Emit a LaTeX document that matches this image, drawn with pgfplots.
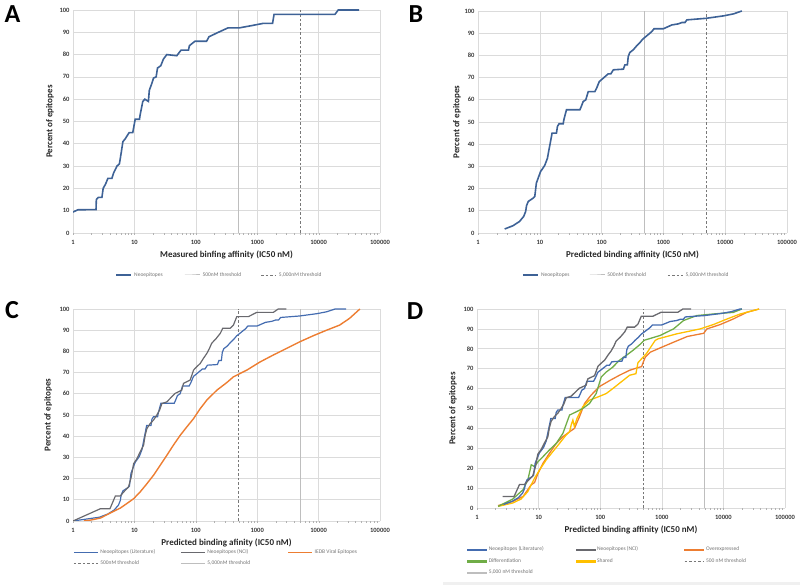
\documentclass[border=0pt]{standalone}
\usepackage{pgfplots}
\pgfplotsset{compat=1.18}
\usepackage{fontspec}
\setmainfont{Carlito}
\definecolor{neoblue}{RGB}{62,98,150}
\definecolor{litblue}{RGB}{68,108,176}
\definecolor{nci}{RGB}{105,105,110}
\definecolor{iedb}{RGB}{237,125,49}
\definecolor{diffg}{RGB}{112,173,71}
\definecolor{shared}{RGB}{255,192,0}
\definecolor{thrsolid}{RGB}{190,190,190}
\definecolor{thrdash}{RGB}{120,120,120}

\pgfplotsset{every axis/.append style={
    xmode=log, scale only axis,
    xmin=1, xmax=100000, ymin=0, ymax=100,
    xtick={1,10,100,1000,10000,100000},
    xticklabels={1,10,100,1000,10000,100000},
    ytick={0,10,20,30,40,50,60,70,80,90,100},
    yticklabels={0,10,20,30,40,50,60,70,80,90,100},
    grid=major,
    major grid style={draw=gray!28, line width=0.6pt},
    axis line style={draw=none},
    ytick style={draw=none},
    xtick style={draw=gray!60},
    xtick pos=left,
    tick align=outside,
    major tick length=0pt,
    minor tick length=2pt,
    tick label style={font=\fontsize{6.5}{7}\selectfont\bfseries, text=black!78},
    xticklabel style={yshift=-4pt},
    xlabel style={font=\fontsize{9}{10}\selectfont\bfseries, text=black!85,
      at={(axis description cs:0.5,0)}, anchor=center, yshift=-22pt},
    ylabel style={font=\fontsize{9}{10}\selectfont\bfseries, text=black!85, anchor=center},
    ylabel={Percent of epitopes},
    legend cell align=left,
  }}

\begin{document}
\begin{tikzpicture}
\useasboundingbox (0,0) rectangle (800pt,585pt);

% ---------------- A
\begin{axis}[at={(73pt,352pt)}, anchor=south west,
    width=307pt, height=223pt,
    ylabel style={at={(axis description cs:-0.075,0.5)}},
    xlabel={Measured binfing affinity (IC50 nM)},
    legend columns=3,
    legend image post style={xscale=0.9},
    legend style={draw=none, fill=none, inner sep=0pt,
      font=\fontsize{5.5}{6.5}\selectfont, text=black!55,
      at={(axis description cs:0.137,0)}, anchor=west, yshift=-42pt}]
\addplot[thrsolid, line width=1pt, forget plot] coordinates {(500,0) (500,100)};
\addplot[thrdash, line width=0.9pt, dash pattern=on 2.5pt off 2pt, forget plot] coordinates {(5000,0) (5000,100)};
\addplot[neoblue, line width=1.6pt] coordinates {(1,9.4)(1.2,10.4)(2.37,10.5)(2.4,15)(2.6,16)(2.96,16)(3.1,20)(3.4,22)(3.7,24.5)(4.3,24.5)(4.6,27)(5.2,30)(5.7,31)(6.1,36)(6.5,41)(7.0,42)(8.2,45)(9.4,45)(10.3,51)(12.1,51)(12.4,53)(13.7,59)(14.8,60)(16.9,59)(17.5,64)(19.2,67)(20.5,69.5)(22.6,70)(23.8,74)(26.9,75)(29.7,78)(33.7,80)(49,79.5)(57.5,82)(76,82)(78.7,84)(97,86)(150,86)(164,88)(233,90)(336,92)(516,92)(815,93)(1250,94)(1780,94)(1880,98)(18400,98)(20900,100)(45500,100)};
\addlegendentry{\makebox[48pt][l]{Neoepitopes}}
\addlegendimage{thrsolid, line width=1pt}
\addlegendentry{\makebox[56pt][l]{500nM threshold}}
\addlegendimage{thrdash, line width=0.9pt, dash pattern=on 2.5pt off 2pt}
\addlegendentry{5,000nM threshold}
\end{axis}

% ---------------- B
\begin{axis}[at={(478pt,352pt)}, anchor=south west,
    width=309pt, height=222pt,
    ylabel style={at={(axis description cs:-0.068,0.5)}},
    xlabel={Predicted binding affinity (IC50 nM)},
    legend columns=3,
    legend image post style={xscale=0.9},
    legend style={draw=none, fill=none, inner sep=0pt,
      font=\fontsize{5.5}{6.5}\selectfont, text=black!55,
      at={(axis description cs:0.142,0)}, anchor=west, yshift=-42pt}]
\addplot[thrsolid, line width=1pt, forget plot] coordinates {(500,0) (500,100)};
\addplot[thrdash, line width=0.9pt, dash pattern=on 2.5pt off 2pt, forget plot] coordinates {(5000,0) (5000,100)};
\addplot[neoblue, line width=1.6pt] coordinates {(2.7,1.8)(3.7,3.3)(4.7,5.2)(5.5,7.5)(5.9,9.7)(6.1,12.3)(6.5,14.2)(7.8,15.7)(8.3,16.5)(8.8,22.5)(9.4,24.7)(10.3,27.7)(12.0,30.4)(13.3,33.7)(13.9,36.7)(15.1,42)(15.8,45)(18.6,45)(19.3,48)(20.5,49.2)(23.9,49.2)(24.5,51)(27,55.5)(44.5,55.5)(47.4,57.3)(50.3,59.2)(55.5,60)(60.8,63.7)(78,63.7)(83,65.2)(91.6,68.2)(106,69.7)(128,71.7)(141,71.7)(155,73.5)(225,73.8)(238,75.7)(261,75.7)(270,79.5)(286,81.3)(325,82.5)(369,84.3)(418,85.8)(462,87.3)(537,88.8)(647,90.7)(706,92)(1000,92)(1365,93.7)(1740,94.2)(1990,94.8)(2230,94.8)(2400,96)(4900,96.7)(9400,97.8)(13600,98.7)(18600,100)};
\addlegendentry{\makebox[46pt][l]{Neoepitopes}}
\addlegendimage{thrsolid, line width=1pt}
\addlegendentry{\makebox[58pt][l]{500nM threshold}}
\addlegendimage{thrdash, line width=0.9pt, dash pattern=on 2.5pt off 2pt}
\addlegendentry{5,000nM threshold}
\end{axis}

% ---------------- C
\begin{axis}[at={(73pt,64pt)}, anchor=south west,
    width=307pt, height=212pt,
    ylabel style={at={(axis description cs:-0.081,0.5)}},
    xlabel={Predicted binding afinity (IC50 nM)},
    legend columns=3,
    legend image post style={xscale=1.4},
    legend style={draw=none, fill=none, inner sep=0pt, row sep=2pt,
      font=\fontsize{5.5}{6.5}\selectfont, text=black!55,
      at={(axis description cs:0,0)}, anchor=west, yshift=-37pt}]
\addplot[thrdash, line width=0.9pt, dash pattern=on 2.5pt off 2pt, forget plot] coordinates {(500,0) (500,100)};
\addplot[thrsolid, line width=1pt, forget plot] coordinates {(5000,0) (5000,100)};
\addplot[litblue, line width=1.2pt] coordinates {(1,0)(2.7,1.8)(3.7,3.3)(4.7,5.2)(5.5,7.5)(5.9,9.7)(6.1,12.3)(6.5,14.2)(7.8,15.7)(8.3,16.5)(8.8,22.5)(9.4,24.7)(10.3,27.7)(12.0,30.4)(13.3,33.7)(13.9,36.7)(15.1,42)(15.8,45)(18.6,45)(19.3,48)(20.5,49.2)(23.9,49.2)(24.5,51)(27,55.5)(44.5,55.5)(47.4,57.3)(50.3,59.2)(55.5,60)(60.8,63.7)(78,63.7)(83,65.2)(91.6,68.2)(106,69.7)(128,71.7)(141,71.7)(155,73.5)(225,73.8)(238,75.7)(261,75.7)(270,79.5)(286,81.3)(325,82.5)(369,84.3)(418,85.8)(462,87.3)(537,88.8)(647,90.7)(706,92)(1000,92)(1365,93.7)(1740,94.2)(1990,94.8)(2230,94.8)(2400,96)(4900,96.7)(9400,97.8)(13600,98.7)(18600,100)(28000,100)};
\addlegendentry{\makebox[78pt][l]{Neoepitopes (Literature)}}
\addplot[nci, line width=1.2pt] coordinates {(1,0)(2.8,5.8)(4.0,5.8)(4.9,11.8)(5.9,11.8)(6.7,13.7)(8.0,16)(8.9,20.8)(9.7,27)(11.0,29.4)(12.4,32.6)(14.1,35.7)(15.0,40.5)(16.0,43.6)(18.1,46)(20.5,47.6)(23.2,50)(25.7,52.3)(28.1,55.4)(33.8,56.2)(38.2,57.8)(46,60.2)(59,61.7)(63,64.9)(81,66.5)(92,71.2)(104,72.8)(118,74.3)(133,76.7)(151,79)(167,81.4)(181,83.8)(215,86.1)(250,88.5)(275,90.9)(362,90.9)(410,92.4)(465,96.4)(720,96.4)(980,98.4)(1830,98.4)(2200,100)(3000,100)};
\addlegendentry{\makebox[78pt][l]{Neoepitopes (NCI)}}
\addplot[iedb, line width=1.4pt] coordinates {(1.5,0)(2,0.5)(2.8,1.4)(4.6,4.6)(5.9,6.1)(7.5,8.2)(9.7,10.5)(12.4,13.7)(16,17.6)(20.5,21.6)(26.3,26.3)(33.8,31)(43,35.7)(56,40.5)(71.5,44.4)(92,48.3)(118,53)(151,57)(220,61.7)(320,65.3)(410,68)(680,71.2)(1110,75)(1830,78.3)(3000,81.4)(5000,84.6)(8200,87.4)(13500,90)(22000,92.4)(32000,95.6)(47000,100)};
\addlegendentry{\makebox[78pt][l]{IEDB Viral Epitopes}}
\addlegendimage{thrdash, line width=0.9pt, dash pattern=on 2.5pt off 2pt}
\addlegendentry{500nM threshold}
\addlegendimage{thrsolid, line width=1pt}
\addlegendentry{5,000nM threshold}
\end{axis}

% ---------------- D
\begin{axis}[at={(477pt,77pt)}, anchor=south west,
    width=308pt, height=199pt,
    ylabel style={at={(axis description cs:-0.078,0.5)}},
    xlabel={Predicted binding affinity (IC50 nM)},
    legend columns=3,
    legend style={draw=none, fill=none, inner sep=0pt, row sep=2pt,
      font=\fontsize{5.5}{6.5}\selectfont, text=black!55,
      at={(axis description cs:-0.032,0)}, anchor=west, yshift=-53pt}]
\addplot[thrdash, line width=0.9pt, dash pattern=on 2.5pt off 2pt, forget plot] coordinates {(500,0) (500,100)};
\addplot[thrsolid, line width=1pt, forget plot] coordinates {(5000,0) (5000,100)};
\addplot[iedb, line width=1.3pt, forget plot] coordinates {(2.2,1.2)(3.8,3.3)(5.6,5.8)(7.6,11.7)(8.6,12.8)(9.8,17.5)(11.8,22.5)(15,27.5)(19.4,32.5)(24.8,35.8)(31.8,38.3)(38.2,40)(46,45.8)(55.7,52.5)(71,56.7)(97,61)(142,64)(205,66.7)(300,69.2)(436,70.8)(470,71)(500,73.3)(540,75.8)(650,78.3)(1000,80.8)(1550,83.3)(2600,86.2)(4800,87.8)(5400,90)(8900,92.2)(14500,95)(23800,98.3)(38000,100)};
\addplot[shared, line width=1.3pt, forget plot] coordinates {(2.2,0.8)(3.8,2.5)(5.2,4.5)(6.7,8.3)(8.6,15)(10.4,19.2)(13.3,24.2)(17,28.3)(21.9,32.5)(28,36.7)(31.8,38.3)(34,42)(36,44.2)(38,41)(42,45)(52,50.8)(67,54.2)(92,55.8)(125,57.5)(160,60)(218,63.3)(300,66.7)(380,67.5)(410,73)(470,75)(560,77.5)(780,84.2)(870,85)(1740,87.5)(4200,90)(6900,92.2)(11500,95)(18800,97.5)(38000,100)};
\addplot[diffg, line width=1.3pt, forget plot] coordinates {(2.2,0.8)(3.8,4.5)(5.6,9.2)(6.7,14.2)(7.6,21.7)(8.6,20.8)(9.8,23.3)(11.8,25.8)(15,29.2)(19.4,32.5)(24.8,37.5)(31.8,46.7)(40.6,48.3)(52,50)(67,52.5)(86,57.5)(104,65.8)(125,68.3)(160,70.8)(205,74.2)(265,76.7)(340,79.2)(436,82)(520,84.3)(940,86.7)(1550,90)(2250,94.2)(3700,96.7)(6900,97.5)(14500,98.3)(20000,100)};
\addplot[litblue, line width=1.3pt, forget plot] coordinates {(2.7,1.8)(3.7,3.3)(4.7,5.2)(5.5,7.5)(5.9,9.7)(6.1,12.3)(6.5,14.2)(7.8,15.7)(8.3,16.5)(8.8,22.5)(9.4,24.7)(10.3,27.7)(12.0,30.4)(13.3,33.7)(13.9,36.7)(15.1,42)(15.8,45)(18.6,45)(19.3,48)(20.5,49.2)(23.9,49.2)(24.5,51)(27,55.5)(44.5,55.5)(47.4,57.3)(50.3,59.2)(55.5,60)(60.8,63.7)(78,63.7)(83,65.2)(91.6,68.2)(106,69.7)(128,71.7)(141,71.7)(155,73.5)(225,73.8)(238,75.7)(261,75.7)(270,79.5)(286,81.3)(325,82.5)(369,84.3)(418,85.8)(462,87.3)(537,88.8)(647,90.7)(706,92)(1000,92)(1365,93.7)(1740,94.2)(1990,94.8)(2230,94.8)(2400,96)(4900,96.7)(9400,97.8)(13600,98.7)(18600,100)(20000,100)};
\addplot[nci, line width=1.3pt, forget plot] coordinates {(2.6,5.8)(4.0,5.8)(4.9,11.8)(5.9,11.8)(6.7,13.7)(8.0,16)(8.9,20.8)(9.7,27)(11.0,29.4)(12.4,32.6)(14.1,35.7)(15.0,40.5)(16.0,43.6)(18.1,46)(20.5,47.6)(23.2,50)(25.7,52.3)(28.1,55.4)(33.8,56.2)(38.2,57.8)(46,60.2)(59,61.7)(63,64.9)(81,66.5)(92,71.2)(104,72.8)(118,74.3)(133,76.7)(151,79)(167,81.4)(181,83.8)(215,86.1)(250,88.5)(275,90.9)(362,90.9)(410,92.4)(465,96.4)(720,96.4)(980,98.4)(1830,98.4)(2200,100)(3000,100)};
\addlegendimage{legend image code/.code={\fill[litblue] (0pt,-0.8pt) rectangle (19pt,0.8pt);}}
\addlegendentry{\makebox[85pt][l]{Neoepitopes (Literature)}}
\addlegendimage{legend image code/.code={\fill[nci] (0pt,-0.8pt) rectangle (19pt,0.8pt);}}
\addlegendentry{\makebox[85pt][l]{Neoepitopes (NCI)}}
\addlegendimage{legend image code/.code={\fill[iedb] (0pt,-0.8pt) rectangle (19pt,0.8pt);}}
\addlegendentry{\makebox[85pt][l]{Overexpressed}}
\addlegendimage{legend image code/.code={\fill[diffg] (0pt,-0.8pt) rectangle (19pt,0.8pt);}}
\addlegendentry{Differentiation}
\addlegendimage{legend image code/.code={\fill[shared] (0pt,-0.8pt) rectangle (19pt,0.8pt);}}
\addlegendentry{Shared}
\addlegendimage{legend image code/.code={\draw[thrdash, line width=0.9pt, dash pattern=on 2.5pt off 2pt] (0pt,0pt) -- (19pt,0pt);}}
\addlegendentry{500 nM threshold}
\addlegendimage{legend image code/.code={\fill[thrsolid] (0pt,-0.5pt) rectangle (19pt,0.5pt);}}
\addlegendentry{5,000 nM threshold}
\end{axis}

\fill[gray!12] (443pt,0pt) rectangle (800pt,3pt);

\node[font=\fontsize{26}{26}\selectfont\bfseries] at (12.5pt,571pt) {A};
\node[font=\fontsize{26}{26}\selectfont\bfseries] at (416pt,571pt) {B};
\node[font=\fontsize{26}{26}\selectfont\bfseries] at (12pt,275pt) {C};
\node[font=\fontsize{26}{26}\selectfont\bfseries] at (415pt,274pt) {D};
\end{tikzpicture}
\end{document}
